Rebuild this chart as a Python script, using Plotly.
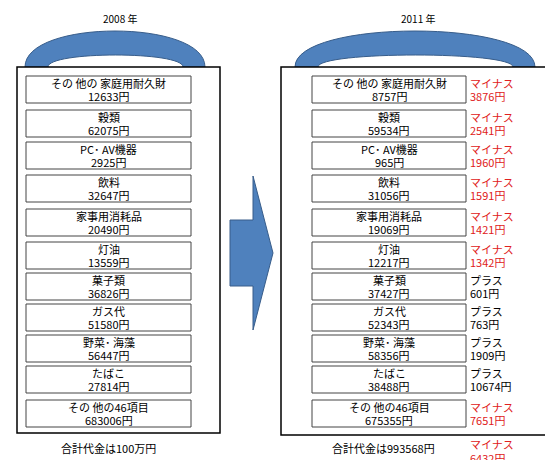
import plotly.graph_objects as go

items = ["その 他の 家庭用耐久財", "穀類", "PC･ AV機器", "飲料", "家事用消耗品", "灯油",
         "菓子類", "ガス代", "野菜･ 海藻", "たばこ", "その 他の46項目"]
val_2008 = [12633, 62075, 2925, 32647, 20490, 13559, 36826, 51580, 56447, 27814, 683006]
val_2011 = [8757, 59534, 965, 31056, 19069, 12217, 37427, 52343, 58356, 38488, 675355]
diff = [-3876, -2541, -1960, -1591, -1421, -1342, 601, 763, 1909, 10674, -7651]
total_2008 = "合計代金は100万円"
total_2011 = "合計代金は993568円"
total_diff = -6432

row_top = [68, 102, 134, 167, 201, 234, 265, 296, 327, 358, 392]
row_h = 27
BLUE = "#4f81bd"
EDGE = "#385d8a"
RED = "#e02020"
FONT = "Noto Sans CJK JP"

fig = go.Figure()
shapes = []
ann = []


def handle(ox0, ox1, ix0, ix1, base, opeak, ipeak):
    oc = (opeak - 0.25 * base) / 0.75
    ic = (ipeak - 0.25 * base) / 0.75
    return (f"M {ox0} {base} C {ox0} {oc}, {ox1} {oc}, {ox1} {base} "
            f"L {ix1} {base} C {ix1} {ic}, {ix0} {ic}, {ix0} {base} Z")


# bags
for bx0, bx1, by1, hnd, title, tx in [
        (9, 212, 425, (17, 197, 40, 175), "2008 年", 112),
        (273, 545, 427, (287, 527, 310, 505), "2011 年", 410)]:
    shapes.append(dict(type="path", path=handle(*hnd, 59, 23, 47),
                       fillcolor=BLUE, line=dict(color=EDGE, width=1)))
    shapes.append(dict(type="rect", x0=bx0, x1=bx1, y0=59, y1=by1,
                       fillcolor="white", line=dict(color="black", width=1.5)))
    ann.append(dict(x=tx, y=10, text=title, showarrow=False, font=dict(size=10)))

# arrow
shapes.append(dict(type="path",
                   path="M 222 212 L 245 212 L 245 168 L 265 245 L 245 322 L 245 278 L 222 278 Z",
                   fillcolor=BLUE, line=dict(color=EDGE, width=1)))

for i, name in enumerate(items):
    y0 = row_top[i]
    for x0, x1, v in [(18, 183, val_2008[i]), (304, 458, val_2011[i])]:
        shapes.append(dict(type="rect", x0=x0, x1=x1, y0=y0, y1=y0 + row_h,
                           fillcolor="white", line=dict(color="#444", width=1)))
        ann.append(dict(x=(x0 + x1) / 2, y=y0 + 7, text=name,
                        showarrow=False, font=dict(size=11)))
        ann.append(dict(x=(x0 + x1) / 2, y=y0 + 20, text=f"{v}円",
                        showarrow=False, font=dict(size=11)))
    d = diff[i]
    word = "マイナス" if d < 0 else "プラス"
    col = RED if d < 0 else "black"
    ann.append(dict(x=460, y=y0 + 7, xanchor="left", text=word,
                    showarrow=False, font=dict(size=11, color=col)))
    ann.append(dict(x=460, y=y0 + 20, xanchor="left", text=f"{abs(d)}円",
                    showarrow=False, font=dict(size=11, color=col)))

ann.append(dict(x=100, y=440, text=total_2008, showarrow=False, font=dict(size=11)))
ann.append(dict(x=375, y=440, text=total_2011, showarrow=False, font=dict(size=11)))
ann.append(dict(x=460, y=436, xanchor="left", text="マイナス",
                showarrow=False, font=dict(size=11, color=RED)))
ann.append(dict(x=460, y=450, xanchor="left", text=f"{abs(total_diff)}円",
                showarrow=False, font=dict(size=11, color=RED)))

fig.update_layout(width=553, height=460, margin=dict(l=0, r=0, t=0, b=0),
                  plot_bgcolor="white", paper_bgcolor="white",
                  font=dict(family=FONT, color="black"),
                  shapes=shapes, annotations=ann, showlegend=False,
                  xaxis=dict(range=[0, 553], visible=False, fixedrange=True),
                  yaxis=dict(range=[460, 0], visible=False, fixedrange=True))
fig.write_html("out.html")
